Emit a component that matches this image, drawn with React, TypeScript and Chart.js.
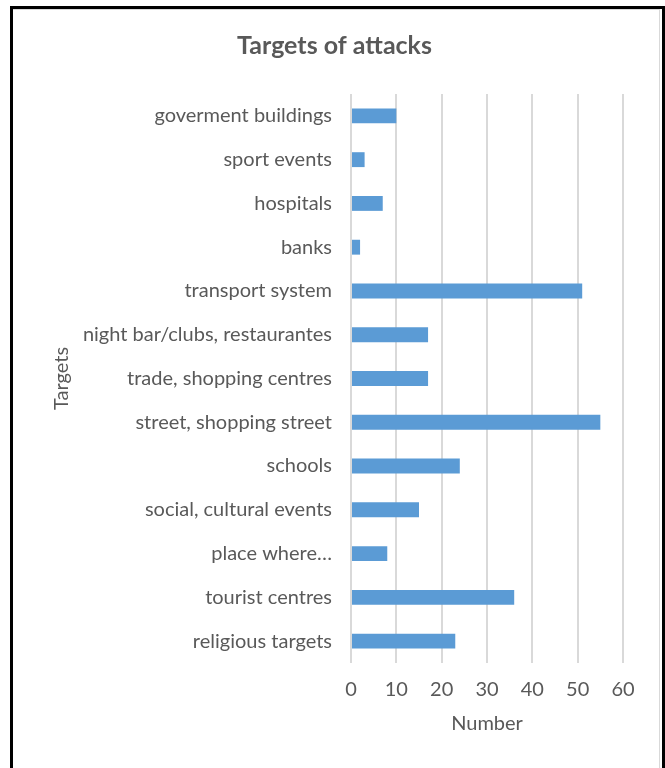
import React, { useEffect, useRef } from "react";
import { Chart, registerables } from "chart.js";

Chart.register(...registerables);

const categories: string[] = [
  "goverment buildings",
  "sport events",
  "hospitals",
  "banks",
  "transport system",
  "night bar/clubs, restaurantes",
  "trade, shopping centres",
  "street, shopping street",
  "schools",
  "social, cultural events",
  "place where…",
  "tourist centres",
  "religious targets",
];
const values: number[] = [10, 3, 7, 2, 51, 17, 17, 55, 24, 15, 8, 36, 23];
const xMin = 0;
const xMax = 60;
const xStep = 10;

const TEXT = "#595959";
const FONT = "Lato, 'Open Sans', sans-serif";

export default function App() {
  const ref = useRef<HTMLCanvasElement | null>(null);

  useEffect(() => {
    if (!ref.current) return;
    const chart = new Chart(ref.current, {
      type: "bar",
      data: {
        labels: categories,
        datasets: [
          {
            data: values,
            backgroundColor: "#5B9BD5",
            barPercentage: 0.34,
            categoryPercentage: 1,
          },
        ],
      },
      options: {
        indexAxis: "y",
        responsive: false,
        animation: false,
        layout: { padding: { left: 46, right: 42, top: 0, bottom: 28 } },
        plugins: {
          legend: { display: false },
          tooltip: { enabled: false },
          title: {
            display: true,
            text: "Targets of attacks",
            color: TEXT,
            font: { family: FONT, size: 25, weight: "bold" },
            padding: { top: 31, bottom: 33 },
          },
        },
        scales: {
          x: {
            min: xMin,
            max: xMax,
            ticks: {
              stepSize: xStep,
              color: TEXT,
              font: { family: FONT, size: 20 },
              padding: 15,
            },
            grid: { color: "#D9D9D9", lineWidth: 2, drawTicks: false },
            border: { display: false },
            title: {
              display: true,
              text: "Number",
              color: TEXT,
              font: { family: FONT, size: 20 },
            },
            afterFit: (s: any) => {
              s.height = 77;
            },
          },
          y: {
            ticks: {
              color: TEXT,
              font: { family: FONT, size: 20 },
              padding: 19,
            },
            grid: { display: false, drawTicks: false },
            border: { display: false },
            title: {
              display: true,
              text: "Targets",
              color: TEXT,
              font: { family: FONT, size: 20 },
            },
            afterFit: (s: any) => {
              s.width = 305;
            },
          },
        },
      },
    });
    return () => chart.destroy();
  }, []);

  return (
    <div
      style={{
        position: "fixed",
        left: 0,
        top: 0,
        width: 665,
        height: 768,
        background: "#fff",
      }}
    >
      <canvas ref={ref} width={665} height={768} style={{ display: "block" }} />
      <div
        style={{
          position: "absolute",
          left: 10,
          top: 6,
          width: 649,
          height: 762,
          borderLeft: "3px solid #000",
          borderTop: "3px solid #000",
          borderRight: "3px solid #000",
          pointerEvents: "none",
        }}
      />
      <div
        style={{
          position: "absolute",
          left: 13,
          top: 9,
          width: 646,
          height: 759,
          borderTop: "1px solid #d9d9d9",
          borderRight: "1px solid #d9d9d9",
          pointerEvents: "none",
        }}
      />
    </div>
  );
}
